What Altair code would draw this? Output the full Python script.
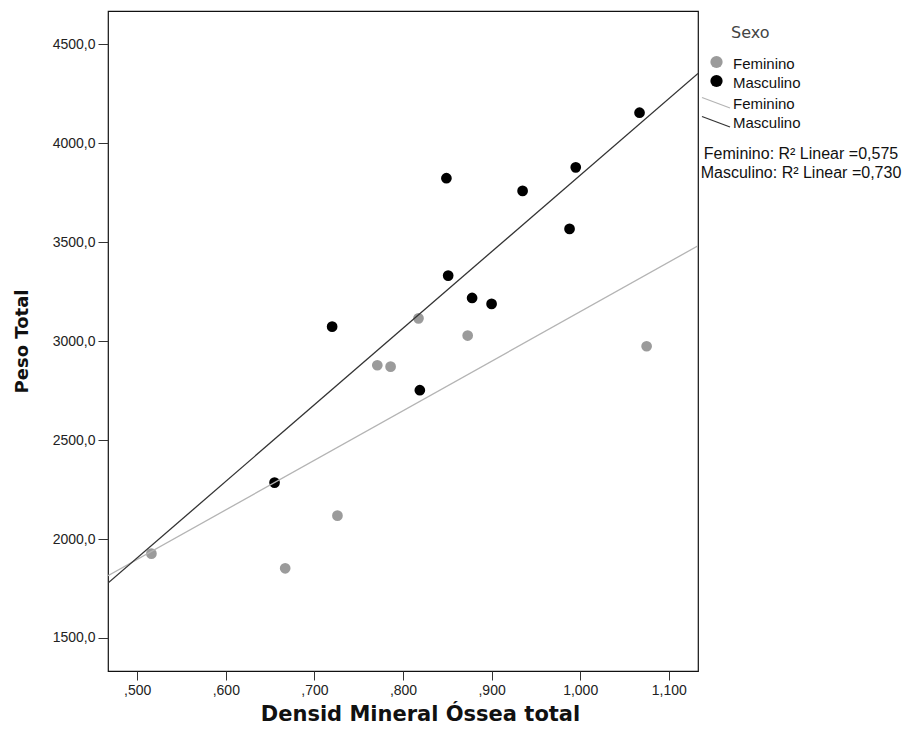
import altair as alt
import pandas as pd

# ---- data ----
groups = ["Feminino", "Masculino"]
fem_dmo = [0.516, 0.667, 0.726, 0.771, 0.786, 0.8175, 0.873, 1.075]
fem_peso = [1926, 1852, 2118, 2878, 2871, 3115, 3028, 2974]
mas_dmo = [0.655, 0.720, 0.819, 0.849, 0.851, 0.878, 0.900, 0.935, 0.988, 0.995, 1.067]
mas_peso = [2285, 3073, 2752, 3823, 3331, 3218, 3188, 3759, 3567, 3878, 4154]
r2_values = ["0,575", "0,730"]
x_ticks = [0.5, 0.6, 0.7, 0.8, 0.9, 1.0, 1.1]
y_ticks = [1500, 2000, 2500, 3000, 3500, 4000, 4500]
x_domain = [0.467, 1.133]
y_domain = [1333, 4668]

df = pd.DataFrame({
    "dmo": fem_dmo + mas_dmo,
    "peso": fem_peso + mas_peso,
    "sexo": [groups[0]] * len(fem_dmo) + [groups[1]] * len(mas_dmo),
})

point_colors = ["#9b9b9b", "#000000"]
line_colors = ["#b4b4b4", "#333333"]

x_enc = alt.X(
    "dmo:Q",
    scale=alt.Scale(domain=x_domain, nice=False, zero=False),
    axis=alt.Axis(
        values=x_ticks,
        title="Densid Mineral Óssea total",
        labelExpr="(datum.value < 0.95 ? '' : '1') + ',' + substring(format(datum.value, '.3f'), 2)",
        tickSize=9, tickColor="#333", domain=False, grid=False,
        labelFont="Liberation Sans", labelFontSize=14, labelColor="#222", labelPadding=3,
        titleFont="DejaVu Sans", titleFontSize=21, titleFontWeight="bold", titleColor="#111",
        titlePadding=6, titleX=312, titleAlign="center",
    ),
)
y_enc = alt.Y(
    "peso:Q",
    scale=alt.Scale(domain=y_domain, nice=False, zero=False),
    axis=alt.Axis(
        values=y_ticks,
        title="Peso Total",
        labelExpr="replace(format(datum.value, '.1f'), '.', ',')",
        tickSize=10, tickColor="#333", domain=False, grid=False,
        labelFont="Liberation Sans", labelFontSize=14, labelColor="#222", labelPadding=3,
        titleFont="DejaVu Sans", titleFontSize=18, titleFontWeight="bold", titleColor="#111",
        titlePadding=21,
    ),
)

base = alt.Chart(df)

points = base.mark_circle(size=115, opacity=1).encode(
    x=x_enc,
    y=y_enc,
    color=alt.Color("sexo:N", scale=alt.Scale(domain=groups, range=point_colors), legend=None),
)

lines = base.transform_regression(
    "dmo", "peso", groupby=["sexo"], extent=x_domain
).mark_line(strokeWidth=1.3, clip=True).encode(
    x="dmo:Q",
    y="peso:Q",
    stroke=alt.Stroke("sexo:N", scale=alt.Scale(domain=groups, range=line_colors), legend=None),
)

# ---- hand-made legend (SPSS style) ----
OX, OY = 108, 11
leg_df = pd.DataFrame({"k": [0]})
legend_layers = []
legend_layers.append(
    alt.Chart(leg_df).mark_text(
        text="Sexo", align="left", baseline="middle", font="DejaVu Sans", fontSize=16, color="#444"
    ).encode(x=alt.value(731 - OX), y=alt.value(33 - OY))
)
for i, g in enumerate(groups):
    cy = [62, 81][i]
    legend_layers.append(
        alt.Chart(leg_df).mark_circle(size=150, opacity=1, color=point_colors[i]).encode(
            x=alt.value(716.5 - OX), y=alt.value(cy - OY)
        )
    )
    legend_layers.append(
        alt.Chart(leg_df).mark_text(
            text=g, align="left", baseline="middle", font="Liberation Sans", fontSize=15, color="#111"
        ).encode(x=alt.value(733 - OX), y=alt.value(cy + 1.5 - OY))
    )
for i, g in enumerate(groups):
    y0 = [97.5, 116.5][i]
    legend_layers.append(
        alt.Chart(leg_df).mark_rule(color=line_colors[i], strokeWidth=1.3).encode(
            x=alt.value(702 - OX), x2=alt.value(730 - OX),
            y=alt.value(y0 - OY), y2=alt.value(y0 + 10.5 - OY),
        )
    )
    legend_layers.append(
        alt.Chart(leg_df).mark_text(
            text=g, align="left", baseline="middle", font="Liberation Sans", fontSize=15, color="#111"
        ).encode(x=alt.value(733 - OX), y=alt.value(y0 + 6.5 - OY))
    )
for i, g in enumerate(groups):
    legend_layers.append(
        alt.Chart(leg_df).mark_text(
            text=f"{g}: R² Linear ={r2_values[i]}", align="center", baseline="middle",
            font="Liberation Sans", fontSize=16, color="#111"
        ).encode(x=alt.value(801 - OX), y=alt.value([154, 173][i] - OY))
    )

chart = alt.layer(points, lines, *legend_layers).properties(
    width=590,
    height=660,
    autosize=alt.AutoSizeParams(type="none"),
    padding={"left": OX, "top": OY, "right": 210, "bottom": 71},
    background="white",
).configure_view(stroke="#111", strokeWidth=1.2)

chart.save("out.html", embed_options={"renderer": "svg", "actions": False})
